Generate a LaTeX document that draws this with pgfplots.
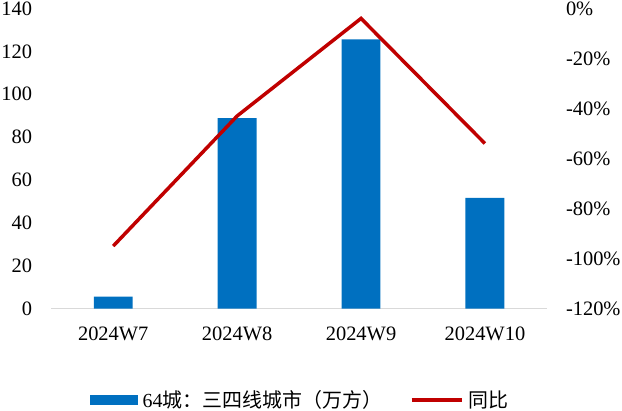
\documentclass[border=0pt]{standalone}
\usepackage{pgfplots}
\pgfplotsset{compat=1.18}
\usepackage{fontspec}
\setmainfont{Liberation Serif}
\newfontfamily\cjk{Noto Sans CJK SC}
\definecolor{barblue}{HTML}{0070C0}
\definecolor{linered}{HTML}{C00000}
\definecolor{axisgray}{HTML}{D9D9D9}
\begin{document}
\begin{tikzpicture}
\pgfplotsset{
  common/.style={
    scale only axis, width=497pt, height=301pt,
    xmin=-0.5, xmax=3.5,
    major tick length=0pt,
    ticklabel style={font=\fontsize{20.5}{24}\selectfont, inner sep=1.5pt},
    /pgf/number format/assume math mode=true,
  }
}
\begin{axis}[common,
  ymin=0, ymax=140,
  ytick={0,20,40,60,80,100,120,140},
  yticklabels={0,20,40,60,80,100,120,140},
  xtick={0,1,2,3},
  xticklabels={2024W7,2024W8,2024W9,2024W10},
  axis x line*=bottom, axis y line*=left,
  x axis line style={draw=axisgray, line width=1pt},
  y axis line style={draw=none},
  xticklabel style={anchor=north, yshift=-16.5pt},
  yticklabel style={anchor=east, xshift=-17.5pt},
]
\addplot[ybar, bar width=39pt, fill=barblue, draw=none]
  coordinates {(0,5.6) (1,88.8) (2,125.6) (3,51.6)};
\end{axis}
\begin{axis}[common,
  ymin=-120, ymax=0,
  ytick={-120,-100,-80,-60,-40,-20,0},
  yticklabels={-120\%,-100\%,-80\%,-60\%,-40\%,-20\%,0\%},
  axis y line*=right, axis x line=none,
  y axis line style={draw=none},
  yticklabel style={anchor=west, xshift=17.5pt},
  legend style={at={(0.5,-0.304)}, anchor=center, draw=none, fill=none,
    inner sep=1.5pt, outer sep=0pt,
    legend columns=2, column sep=0pt,
    nodes={inner sep=0pt, anchor=west},
    font=\fontsize{20}{23}\selectfont,
    /tikz/column 2/.style={column sep=28pt}},
]
\addlegendimage{legend image code/.code={\fill[barblue, draw=none] (0pt,-5pt) rectangle (48pt,5pt); \path[draw=none] (0pt,0pt) -- (53pt,0pt);}}
\addlegendentry{64{\cjk 城：三四线城市（万方）}}
\addplot[linered, line width=3.5pt, sharp plot, mark=none,
  legend image code/.code={\draw[linered, line width=3.5pt] (0pt,0pt) -- (51pt,0pt); \path[draw=none] (0pt,0pt) -- (57pt,0pt);}]
  coordinates {(0,-95) (1,-43) (2,-4) (3,-54)};
\addlegendentry{{\cjk 同比}}
\end{axis}
\end{tikzpicture}
\end{document}
